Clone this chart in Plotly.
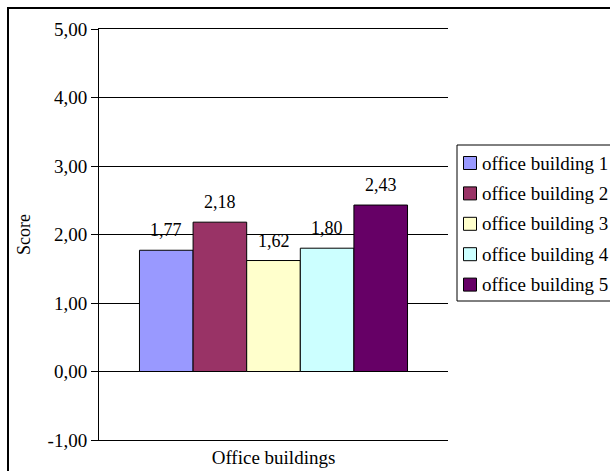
import plotly.graph_objects as go

# Scores per office building
category = ["Office buildings"]
buildings = ["office building 1", "office building 2", "office building 3",
             "office building 4", "office building 5"]
scores = [1.77, 2.18, 1.62, 1.80, 2.43]
colors = ["#9999FF", "#993366", "#FFFFCC", "#CCFFFF", "#660066"]
y_ticks = [-1, 0, 1, 2, 3, 4, 5]
y_tick_labels = ["-1,00", "0,00", "1,00", "2,00", "3,00", "4,00", "5,00"]

FONT = "Liberation Serif"
W, H = 610, 471
M_L, M_R, M_T, M_B = 99, 162, 29, 31
PLOT_W = W - M_L - M_R
PLOT_H = H - M_T - M_B
BAR_GAP = 0.232


def px_x(px):
    return (px - M_L) / PLOT_W


def px_y(py):
    return (H - M_B - py) / PLOT_H


fig = go.Figure()
for name, val, col in zip(buildings, scores, colors):
    fig.add_trace(go.Bar(
        x=category, y=[val], name=name, showlegend=False,
        marker=dict(color=col, line=dict(color="#000000", width=1)),
    ))

# Value labels above each bar of the group (category index 0 on the x axis)
annotations = []
n = len(scores)
bar_w = (1 - BAR_GAP) / n
for i, val in enumerate(scores):
    annotations.append(dict(
        xref="x", yref="y", x=-(1 - BAR_GAP) / 2 + bar_w * (i + 0.5), y=val,
        xanchor="center", yanchor="bottom", yshift=8, showarrow=False,
        text=f"{val:.2f}".replace(".", ","),
        font=dict(family=FONT, size=18, color="#000000"),
    ))

# Legend panel: framed box with a swatch and a label per building
LEG_LEFT, LEG_TOP, LEG_BOTTOM = 457, 145, 301
ROW0, ROW_STEP, SW = 163, 30.4, 13
shapes = [
    dict(type="rect", xref="paper", yref="paper",
         x0=px_x(8), x1=px_x(W + 40), y0=px_y(H + 40), y1=px_y(8),
         line=dict(color="#000000", width=2)),
    dict(type="rect", xref="paper", yref="paper",
         x0=px_x(LEG_LEFT), x1=px_x(W + 40), y0=px_y(LEG_BOTTOM), y1=px_y(LEG_TOP),
         line=dict(color="#000000", width=1), fillcolor="white", layer="below"),
]
for i, (name, col) in enumerate(zip(buildings, colors)):
    cy = ROW0 + ROW_STEP * i
    shapes.append(dict(
        type="rect", xref="paper", yref="paper",
        x0=px_x(463.5), x1=px_x(463.5 + SW),
        y0=px_y(cy + SW / 2), y1=px_y(cy - SW / 2),
        fillcolor=col, line=dict(color="#000000", width=1),
    ))
    annotations.append(dict(
        xref="paper", yref="paper", x=px_x(480), y=px_y(cy),
        xanchor="left", yanchor="middle", showarrow=False,
        text=name, font=dict(family=FONT, size=19, color="#000000"),
    ))

fig.update_layout(
    width=W, height=H,
    margin=dict(l=M_L, r=M_R, t=M_T, b=M_B, autoexpand=False),
    paper_bgcolor="white", plot_bgcolor="white",
    barmode="group", bargap=BAR_GAP, bargroupgap=0,
    font=dict(family=FONT, size=18, color="#000000"),
    showlegend=False,
    shapes=shapes,
    annotations=annotations,
)

fig.update_xaxes(
    showticklabels=False, ticks="", showgrid=False,
    showline=True, linecolor="#000000", linewidth=1, mirror=True,
    zeroline=False,
    title=dict(text="Office buildings", standoff=10,
               font=dict(family=FONT, size=19)),
)
fig.update_yaxes(
    range=[-1, 5], tickmode="array", tickvals=y_ticks, ticktext=y_tick_labels,
    showgrid=True, gridcolor="#000000", gridwidth=1,
    zeroline=True, zerolinecolor="#000000", zerolinewidth=1,
    showline=True, linecolor="#000000", linewidth=1,
    ticks="outside", ticklen=7, tickcolor="#000000",
    tickfont=dict(family=FONT, size=19),
    title=dict(text="Score", standoff=12, font=dict(family=FONT, size=18)),
)

fig.write_html("out.html")
